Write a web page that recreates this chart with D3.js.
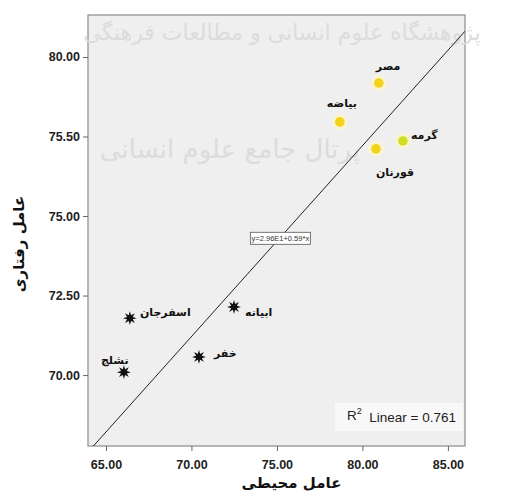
<!DOCTYPE html>
<html>
<head>
<meta charset="utf-8">
<script src="https://cdn.jsdelivr.net/npm/d3@7"></script>
<style>
  body { margin: 0; background: #fff; }
  svg { display: block; }
</style>
</head>
<body>
<svg id="chart"></svg>
<script>
// places, environmental factor (x) and behavioural factor (y)
var placeNames = ["مصر", "بیاضه", "گرمه", "قورنان", "اسفرجان", "ابیانه", "خفر", "نشلج"];
var envValues = [80.96, 78.68, 82.37, 80.79, 66.40, 72.49, 70.44, 66.05];
var behValues = [79.18, 77.96, 77.36, 77.11, 71.79, 72.14, 70.57, 70.09];
var placeGroups = ["desert", "desert", "desert", "desert", "mountain", "mountain", "mountain", "mountain"];

var xTicks = [65, 70, 75, 80, 85];
var yTicks = [70, 72.5, 75, 77.5, 80];
var yTickLabels = ["70.00", "72.50", "75.00", "75.50", "80.00"];

// fit line
var fitIntercept = 29.21;
var fitSlope = 0.60;
var fitLabel = "y=2.96E1+0.59*x";
var rSquared = "0.761";

var screen = {width: 517, height: 500};
var frame = {left: 88, top: 15, right: 465, bottom: 446};

var svg = d3.select("#chart")
    .attr("width", screen.width)
    .attr("height", screen.height);

var xScale = d3.scaleLinear()
    .domain([63.95, 86.0])
    .range([frame.left, frame.right]);

var yScale = d3.scaleLinear()
    .domain([67.77, 81.32])
    .range([frame.bottom, frame.top]);

// plot background + frame
svg.append("rect")
    .attr("x", frame.left)
    .attr("y", frame.top)
    .attr("width", frame.right - frame.left)
    .attr("height", frame.bottom - frame.top)
    .attr("fill", "#efefef")
    .attr("stroke", "#8a8a8a")
    .attr("stroke-width", 1.2);

// faint watermark
var wm = svg.append("g")
    .attr("font-family", "DejaVu Sans")
    .attr("fill", "#dcdcdc")
    .attr("text-anchor", "middle");
wm.append("text")
    .text("پژوهشگاه علوم انسانی و مطالعات فرهنگی")
    .attr("x", 282).attr("y", 40)
    .attr("font-size", 22);
wm.append("text")
    .text("پرتال جامع علوم انسانی")
    .attr("x", 230).attr("y", 158)
    .attr("font-size", 26);

svg.append("clipPath")
    .attr("id", "plotclip")
    .append("rect")
    .attr("x", frame.left)
    .attr("y", frame.top)
    .attr("width", frame.right - frame.left)
    .attr("height", frame.bottom - frame.top);

// axes
var xAxis = d3.axisBottom(xScale)
    .tickValues(xTicks)
    .tickSize(5)
    .tickFormat(d3.format(".2f"));
var yAxis = d3.axisLeft(yScale)
    .tickValues(yTicks)
    .tickSize(5)
    .tickFormat(function(d, i) { return yTickLabels[i]; });

var gx = svg.append("g")
    .attr("transform", "translate(0," + frame.bottom + ")")
    .call(xAxis);
var gy = svg.append("g")
    .attr("transform", "translate(" + frame.left + ",0)")
    .call(yAxis);

[gx, gy].forEach(function(g) {
    g.select(".domain").remove();
    g.selectAll(".tick line").attr("stroke", "#666");
    g.selectAll(".tick text")
        .attr("font-family", "Liberation Sans")
        .attr("font-weight", "bold")
        .attr("font-size", 12.5)
        .attr("fill", "#222");
});
gx.selectAll(".tick text").attr("dy", "1.2em");

// regression line
var line = d3.line()
    .x(function(d) { return xScale(d); })
    .y(function(d) { return yScale(fitIntercept + fitSlope * d); });

svg.append("path")
    .datum(xScale.domain())
    .attr("clip-path", "url(#plotclip)")
    .attr("d", line)
    .attr("fill", "none")
    .attr("stroke", "#222")
    .attr("stroke-width", 1);

// equation box
var eq = svg.append("g")
    .attr("transform", "translate(" + xScale(75.2) + "," + yScale(74.3) + ")");
eq.append("rect")
    .attr("x", -30).attr("y", -6)
    .attr("width", 60).attr("height", 12)
    .attr("fill", "#fff")
    .attr("stroke", "#555")
    .attr("stroke-width", 0.8);
eq.append("text")
    .text(fitLabel)
    .attr("text-anchor", "middle")
    .attr("dy", "0.35em")
    .attr("font-family", "Liberation Sans")
    .attr("font-size", 7.5)
    .attr("fill", "#333");

// points
var points = placeNames.map(function(name, i) {
    return {name: name, env: envValues[i], beh: behValues[i], group: placeGroups[i]};
});

// label left edge / vertical centre relative to its point
var labelOffset = {
    "مصر": [-3, -17], "بیاضه": [-13, -19], "گرمه": [8, -6], "قورنان": [0, 23],
    "اسفرجان": [10, -6], "ابیانه": [11, 5], "خفر": [15, -4], "نشلج": [-23, -12]
};

var starburst = {
    draw: function(context, size) {
        var r = Math.sqrt(size) * 0.75, ri = r * 0.45, n = 8;
        for (var k = 0; k < n * 2; k++) {
            var a = k * Math.PI / n - Math.PI / 2;
            var rr = k % 2 === 0 ? r : ri;
            if (k === 0) context.moveTo(rr * Math.cos(a), rr * Math.sin(a));
            else context.lineTo(rr * Math.cos(a), rr * Math.sin(a));
        }
        context.closePath();
    }
};

var marks = svg.append("g")
    .selectAll("g")
    .data(points)
    .enter()
    .append("g")
    .attr("transform", function(d) {
        return "translate(" + xScale(d.env) + "," + yScale(d.beh) + ")";
    });

marks.filter(function(d) { return d.group === "desert"; })
    .append("circle")
    .attr("r", 8)
    .attr("fill", "#fff6c8")
    .attr("opacity", 0.7);
marks.filter(function(d) { return d.group === "desert"; })
    .append("circle")
    .attr("r", 4.8)
    .attr("fill", function(d) { return d.name === "گرمه" ? "#cfe022" : "#f3d21a"; });

marks.filter(function(d) { return d.group === "mountain"; })
    .append("path")
    .attr("d", d3.symbol().type(starburst).size(85))
    .attr("fill", "#111");

marks.append("text")
    .text(function(d) { return d.name; })
    .attr("x", function(d) { return labelOffset[d.name][0]; })
    .attr("y", function(d) { return labelOffset[d.name][1]; })
    .attr("text-anchor", "start")
    .attr("dy", "0.35em")
    .attr("font-family", "DejaVu Sans")
    .attr("font-weight", "bold")
    .attr("font-size", 11)
    .attr("fill", "#111");

// R squared box
var r2 = svg.append("g")
    .attr("transform", "translate(" + (frame.right - 5) + "," + (frame.bottom - 31) + ")");
r2.append("rect")
    .attr("x", -125).attr("y", -12)
    .attr("width", 128).attr("height", 28)
    .attr("fill", "#f8f8f8");
var r2text = r2.append("text")
    .attr("text-anchor", "end")
    .attr("x", -4)
    .attr("dy", "0.35em")
    .attr("font-family", "Liberation Sans")
    .attr("font-size", 13.5)
    .attr("fill", "#222")
    .attr("xml:space", "preserve");
r2text.append("tspan").text("R");
r2text.append("tspan").text("2").attr("font-size", 9).attr("dy", "-0.6em");
r2text.append("tspan").text("  Linear = " + rSquared).attr("dy", "0.6em");

// axis titles
svg.append("text")
    .text("عامل محیطی")
    .attr("x", (frame.left + frame.right) / 2 + 15)
    .attr("y", 488)
    .attr("text-anchor", "middle")
    .attr("font-family", "DejaVu Sans")
    .attr("font-weight", "bold")
    .attr("font-size", 15)
    .attr("fill", "#111");

svg.append("text")
    .text("عامل رفتاری")
    .attr("transform", "translate(24,244) rotate(-90)")
    .attr("text-anchor", "middle")
    .attr("font-family", "DejaVu Sans")
    .attr("font-weight", "bold")
    .attr("font-size", 15)
    .attr("fill", "#111");
</script>
</body>
</html>
